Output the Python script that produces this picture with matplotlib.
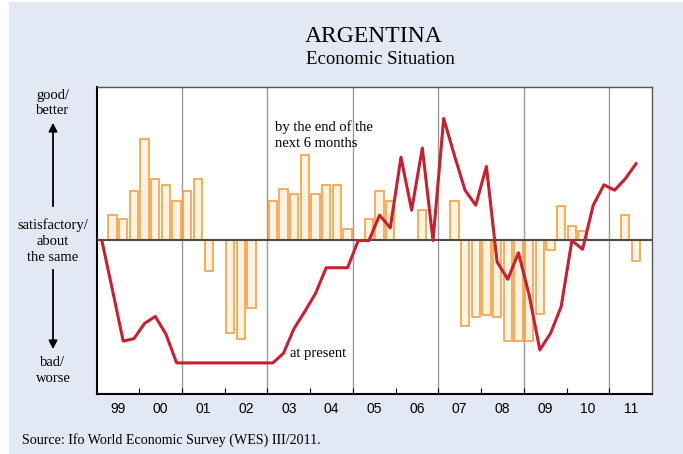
import numpy as np
import matplotlib
matplotlib.use("Agg")
import matplotlib.pyplot as plt
from matplotlib.patches import Rectangle, FancyArrowPatch

# WES scale: 1 = bad/worse, 5 = satisfactory/about the same, 9 = good/better
# quarterly values, Q1 1999 .. Q3 2011
present = [5.0, 3.7, 2.38, 2.44,
           2.84, 3.02, 2.56, 1.81,
           1.81, 1.81, 1.81, 1.81,
           1.81, 1.81, 1.81, 1.81,
           1.81, 2.06, 2.71, 3.15,
           3.62, 4.29, 4.29, 4.29,
           5.0, 5.0, 5.66, 5.33,
           7.17, 5.79, 7.41, 5.0,
           8.18, 7.22, 6.31, 5.92,
           6.93, 4.44, 3.99, 4.68,
           3.58, 2.15, 2.58, 3.28,
           5.0, 4.77, 5.92, 6.45,
           6.31, 6.61, 7.0]

expect = [5.0, 5.66, 5.55, 6.29,
          7.64, 6.6, 6.44, 6.04,
          6.29, 6.6, 4.21, 5.0,
          2.6, 2.44, 3.23, 5.0,
          6.04, 6.35, 6.2, 7.24,
          6.2, 6.44, 6.44, 5.31,
          5.0, 5.55, 6.29, 6.04,
          5.0, 5.0, 5.79, 5.0,
          5.0, 6.04, 2.77, 3.01,
          3.07, 3.01, 2.37, 2.37,
          2.37, 3.09, 4.76, 5.89,
          5.38, 5.25, 5.0, 5.0,
          5.0, 5.66, 4.46]

year_labels = ["99", "00", "01", "02", "03", "04", "05", "06",
               "07", "08", "09", "10", "11"]

bg = "#E2E9F5"
serif = ["Liberation Serif", "DejaVu Serif"]

fig = plt.figure(figsize=(6.83, 4.54), dpi=100, facecolor="white")
fig.patches.append(Rectangle((9 / 683, 0), 1, 452 / 454, transform=fig.transFigure,
                             facecolor=bg, edgecolor="none", zorder=-10))

ax = fig.add_axes([96.5 / 683, 60 / 454, 555.5 / 683, 307 / 454])
ax.set_facecolor("white")

xq = 1999 + (np.arange(len(present)) + 0.5) / 4
xb = 1999 + (np.arange(len(expect)) + 0.5) / 4
exp_arr = np.array(expect)

ax.bar(xb, exp_arr - 5, bottom=5, width=0.195, color="#FAF3E1",
       edgecolor="#F7A045", linewidth=1.2, zorder=2)
ax.plot(xq, present, color="#C8202F", lw=2.2, zorder=4)
ax.axhline(5, color="#4a4a4a", lw=1.5, zorder=3)

for yr in range(2001, 2012, 2):
    ax.axvline(yr, color="#9a9a9a", lw=1, zorder=1)

ax.set_xlim(1999, 2012)
ax.set_ylim(1, 9)
ax.set_yticks([])
ax.set_xticks(range(2000, 2012))
ax.tick_params(axis="x", which="major", direction="in", length=4, labelbottom=False,
               color="black")
ax.set_xticks(np.arange(len(year_labels)) + 1999.5, minor=True)
ax.set_xticklabels(year_labels, minor=True, fontsize=10, family="Liberation Sans")
ax.tick_params(axis="x", which="minor", length=0, pad=6)

for s in ["left", "bottom"]:
    ax.spines[s].set_linewidth(1.5)
    ax.spines[s].set_color("black")
for s in ["top", "right"]:
    ax.spines[s].set_linewidth(1)
    ax.spines[s].set_color("#555555")

ax.text(2003.18, 7.75, "by the end of the\nnext 6 months", family=serif,
        fontsize=10.5, va="center", ha="left", linespacing=1.3)
ax.text(2003.53, 2.05, "at present", family=serif, fontsize=10.5, va="center", ha="left")

fig.text(374 / 683, 1 - 37 / 454, "ARGENTINA", family=serif, fontsize=17,
         ha="center", va="center")
fig.text(380 / 683, 1 - 60 / 454, "Economic Situation", family=serif, fontsize=13.5,
         ha="center", va="center")

lab = dict(family=serif, fontsize=10.5, ha="center", va="center", linespacing=1.3)
fig.text(53 / 683, 1 - 103 / 454, "good/\nbetter", **lab)
fig.text(53 / 683, 1 - 241 / 454, "satisfactory/\nabout\nthe same", **lab)
fig.text(53 / 683, 1 - 370 / 454, "bad/\nworse", **lab)

fig.add_artist(FancyArrowPatch(
    (53 / 683, 1 - 209 / 454), (53 / 683, 1 - 120 / 454), transform=fig.transFigure,
    arrowstyle="-|>,head_length=5,head_width=2.5", color="black", lw=1.3))
fig.add_artist(FancyArrowPatch(
    (53 / 683, 1 - 267 / 454), (53 / 683, 1 - 352 / 454), transform=fig.transFigure,
    arrowstyle="-|>,head_length=5,head_width=2.5", color="black", lw=1.3))

fig.text(22 / 683, 1 - 440 / 454, "Source: Ifo World Economic Survey (WES) III/2011.",
         family=serif, fontsize=10.1, ha="left", va="center")

fig.savefig("out.png", dpi=100, facecolor=fig.get_facecolor())
